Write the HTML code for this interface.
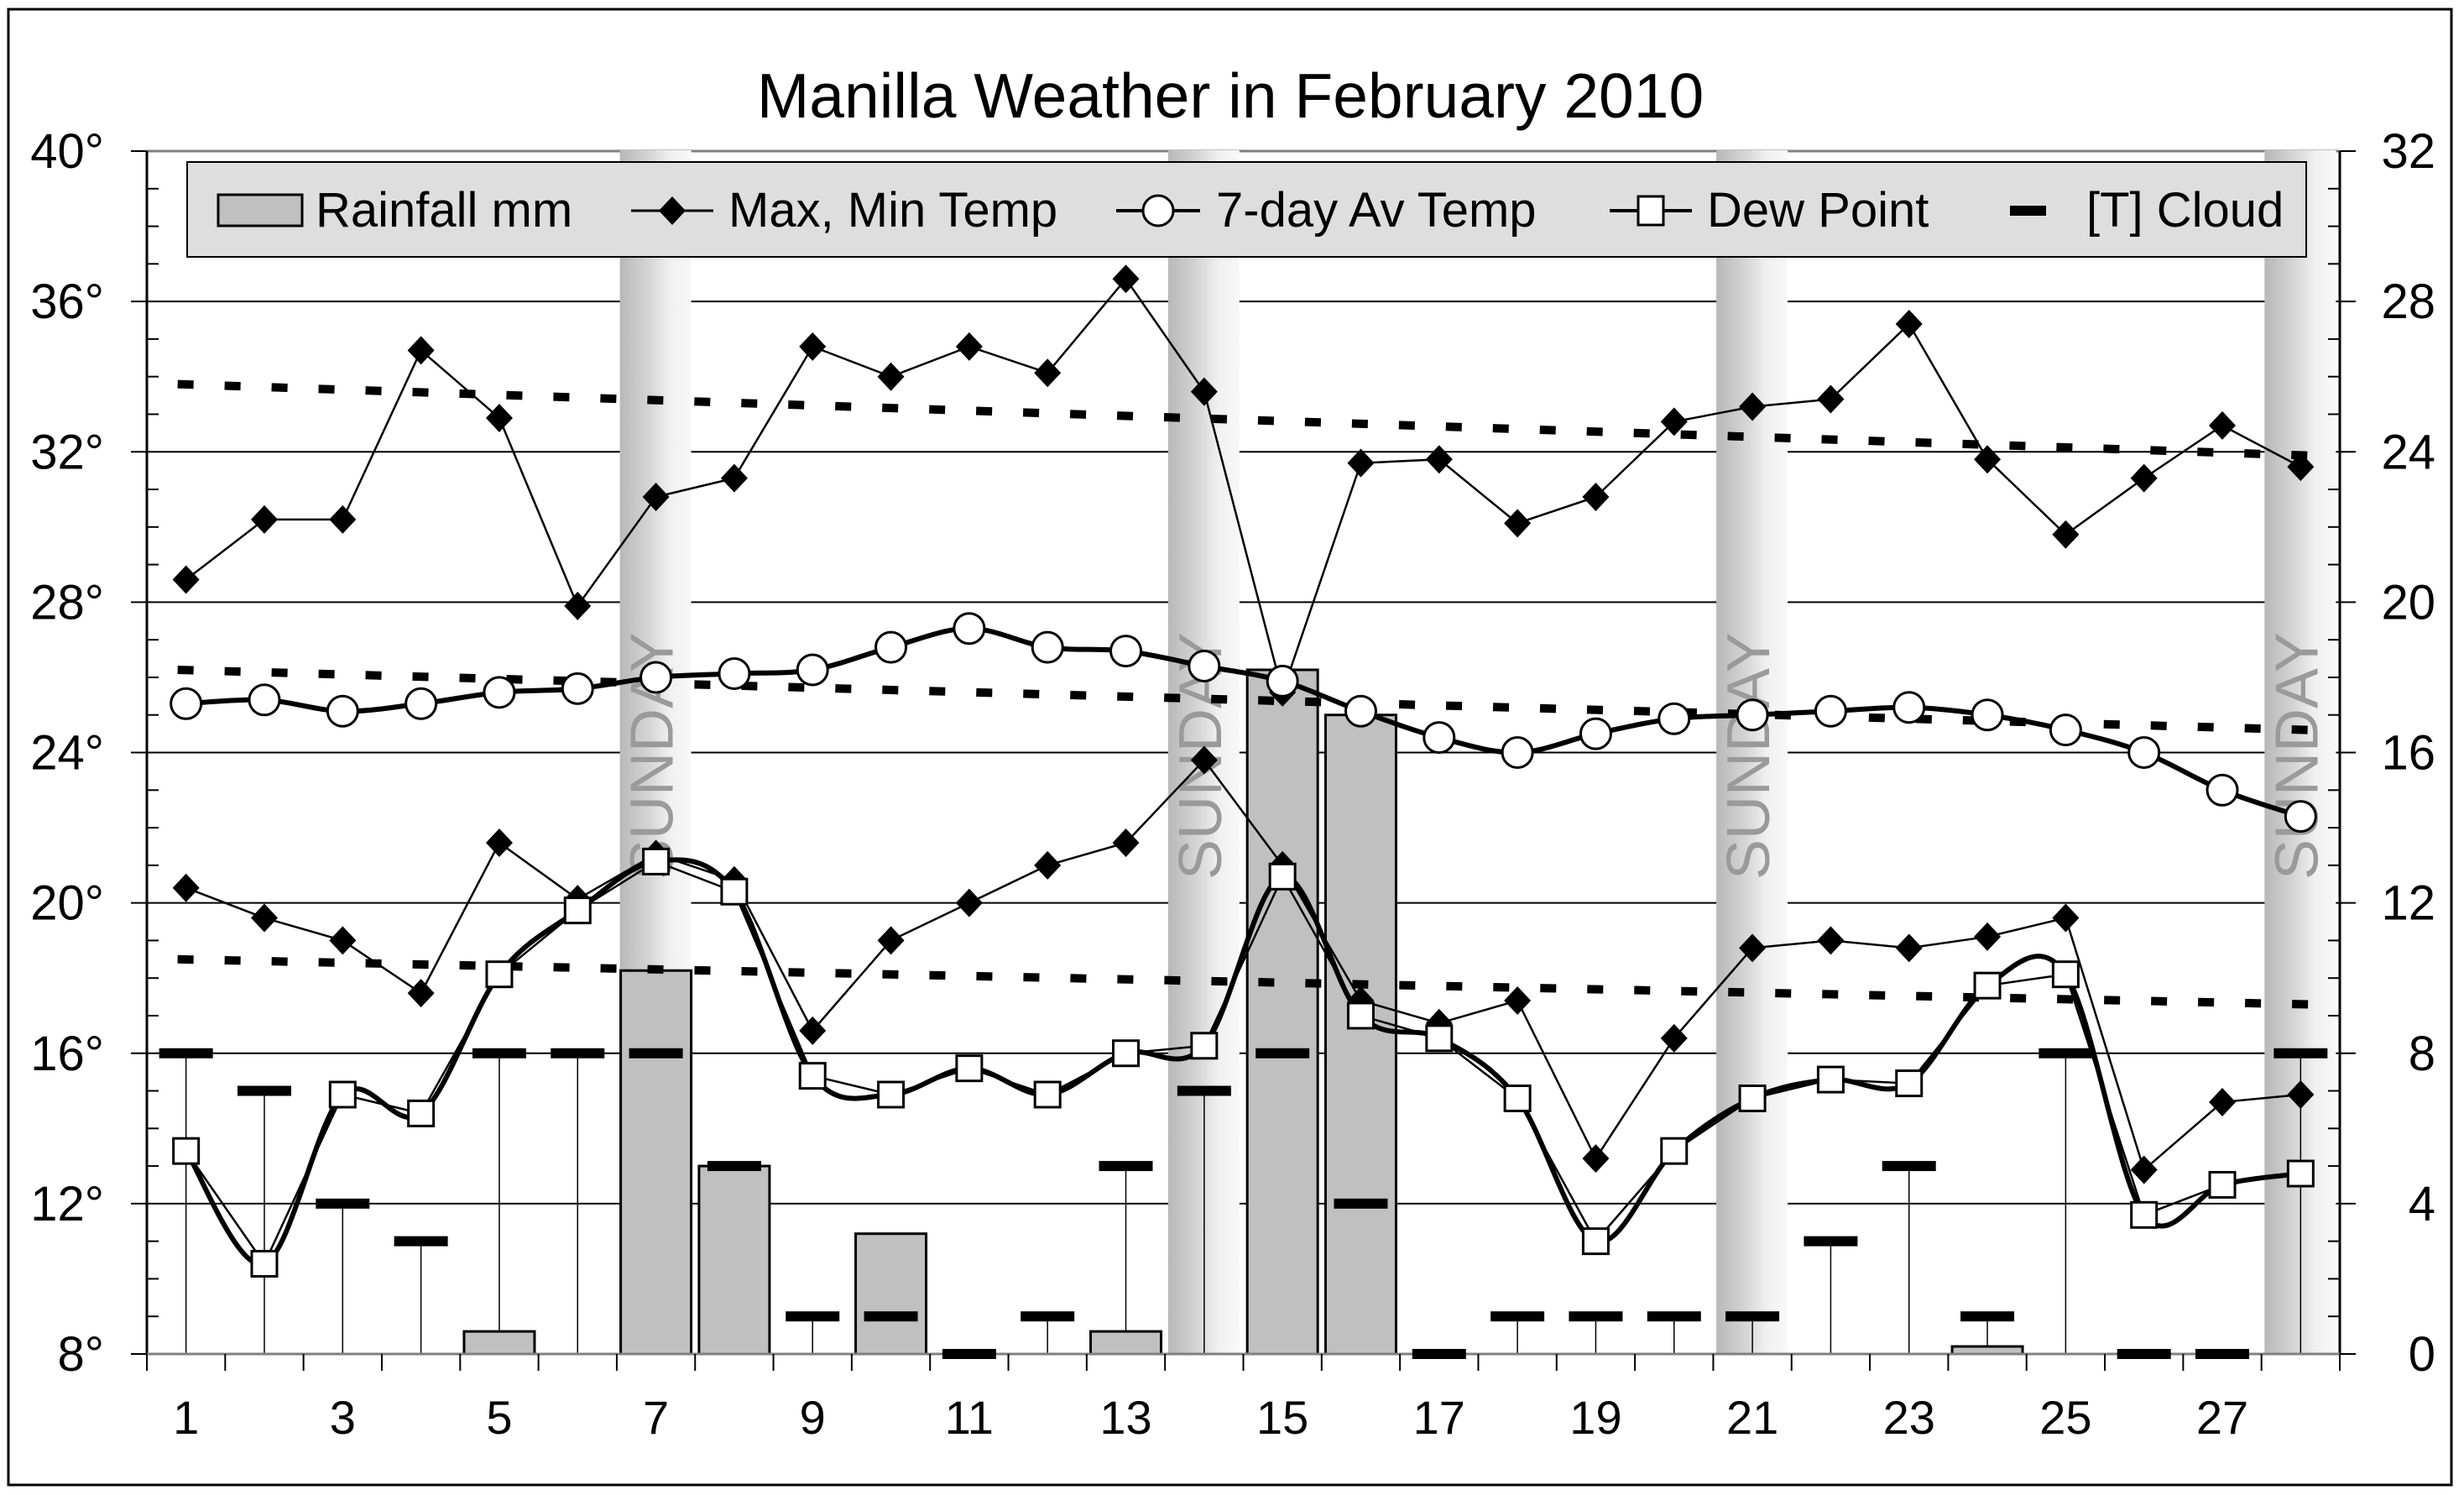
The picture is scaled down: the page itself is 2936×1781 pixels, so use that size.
<!DOCTYPE html>
<html><head><meta charset="utf-8"><style>
html,body{margin:0;padding:0;background:#fff}
svg{display:block}
text{font-family:"Liberation Sans",Arial,sans-serif}
</style></head><body>
<svg id="s" width="2936" height="1781" viewBox="0 0 2936 1781" xmlns="http://www.w3.org/2000/svg">
<defs>
<linearGradient id="sun" x1="0" x2="1" y1="0" y2="0">
<stop offset="0" stop-color="#b8b8b8"/><stop offset="0.45" stop-color="#d8d8d8"/><stop offset="0.7" stop-color="#f0f0f0"/><stop offset="1" stop-color="#f8f8f8"/>
</linearGradient>
</defs>
<rect x="10" y="11" width="2911" height="1758" fill="#fff" stroke="#000" stroke-width="3"/>
<text x="1466" y="140" font-size="75" text-anchor="middle">Manilla Weather in February 2010</text>
<g id="g"></g>
</svg>
<script>
const L=175,R=2788,T=180,B=1613,W=(R-L)/28,U=(B-T)/32;
const X=d=>L+(d-0.5)*W, Y=t=>B-(t-8)*U, YR=r=>B-r*U;
let h='';
for(let t=12;t<=36;t+=4) h+=`<line x1="${L}" x2="${R}" y1="${Y(t)}" y2="${Y(t)}" stroke="#000" stroke-width="2"/>`;
h+=`<line x1="${L}" x2="${R}" y1="${T}" y2="${T}" stroke="#808080" stroke-width="3"/>`;
[7,14,21,28].forEach(d=>{h+=`<rect x="${X(d)-43}" y="${T-1}" width="85" height="${B-T+1}" fill="url(#sun)"/>`;});
const cloud=[8,7,4,3,8,8,8,5,1,1,0,1,5,7,8,4,0,1,1,1,1,3,5,1,8,0,0,8];
cloud.forEach((c,i)=>{if(c>0)h+=`<line x1="${X(i+1)}" x2="${X(i+1)}" y1="${YR(c)}" y2="${B}" stroke="#000" stroke-width="1.5"/>`;});
const rain={5:0.6,7:10.2,8:5.0,10:3.2,13:0.6,15:18.2,16:17.0,24:0.2};
for(const d in rain){h+=`<rect x="${X(+d)-42}" y="${YR(rain[d])}" width="84" height="${B-YR(rain[d])}" fill="#c0c0c0" stroke="#000" stroke-width="3"/>`;}
[7,14,21,28].forEach(d=>{h+=`<text transform="translate(${X(d)+20},1048) rotate(-90)" font-size="72" fill="#9a9a9a">SUNDAY</text>`;});
function dash(a,b){h+=`<line x1="${X(1)-10}" x2="${X(28)+10}" y1="${Y(a)}" y2="${Y(b)}" stroke="#000" stroke-width="10" stroke-dasharray="19 37"/>`;}
dash(33.8,31.9);dash(26.2,24.6);dash(18.5,17.3);
const mx=[28.6,30.2,30.2,34.7,32.9,27.9,30.8,31.3,34.8,34.0,34.8,34.1,36.6,33.6,25.6,31.7,31.8,30.1,30.8,32.8,33.2,33.4,35.4,31.8,29.8,31.3,32.7,31.6];
const mn=[20.4,19.6,19.0,17.6,21.6,20.1,21.3,20.6,16.6,19.0,20.0,21.0,21.6,23.8,21.0,17.4,16.8,17.4,13.2,16.4,18.8,19.0,18.8,19.1,19.6,12.9,14.7,14.9];
const av=[25.3,25.4,25.1,25.3,25.6,25.7,26.0,26.1,26.2,26.8,27.3,26.8,26.7,26.3,25.9,25.1,24.4,24.0,24.5,24.9,25.0,25.1,25.2,25.0,24.6,24.0,23.0,22.3];
const dp=[13.4,10.4,14.9,14.4,18.1,19.8,21.1,20.3,15.4,14.9,15.6,14.9,16.0,16.2,20.7,17.0,16.4,14.8,11.0,13.4,14.8,15.3,15.2,17.8,18.1,11.7,12.5,12.8];
const pts=a=>a.map((v,i)=>[X(i+1),Y(v)]);
function poly(a,w){h+=`<polyline points="${pts(a).map(p=>p.join(',')).join(' ')}" fill="none" stroke="#000" stroke-width="${w}"/>`;}
function smooth(a,w){const p=pts(a);let d=`M${p[0]}`;for(let i=0;i<p.length-1;i++){const p0=p[i-1]||p[i],p1=p[i],p2=p[i+1],p3=p[i+2]||p2;
d+=` C${p1[0]+(p2[0]-p0[0])/6},${p1[1]+(p2[1]-p0[1])/6} ${p2[0]-(p3[0]-p1[0])/6},${p2[1]-(p3[1]-p1[1])/6} ${p2[0]},${p2[1]}`;}
h+=`<path d="${d}" fill="none" stroke="#000" stroke-width="${w}"/>`;}
smooth(av,6);smooth(dp,6);poly(dp,2.5);poly(mx,2.5);poly(mn,2.5);
h+=`<line x1="${L}" x2="${L}" y1="${T}" y2="${B}" stroke="#000" stroke-width="3"/><line x1="${R}" x2="${R}" y1="${T}" y2="${B}" stroke="#000" stroke-width="3"/><line x1="${L}" x2="${R}" y1="${B}" y2="${B}" stroke="#808080" stroke-width="3"/>`;
cloud.forEach((c,i)=>{h+=`<rect x="${X(i+1)-32}" y="${YR(c)-6}" width="64" height="12" fill="#000"/>`;});
const dia=(x,y)=>`<polygon points="${x},${y-17} ${x+16},${y} ${x},${y+17} ${x-16},${y}" fill="#000"/>`;
mx.forEach((v,i)=>h+=dia(X(i+1),Y(v)));mn.forEach((v,i)=>h+=dia(X(i+1),Y(v)));
av.forEach((v,i)=>h+=`<circle cx="${X(i+1)}" cy="${Y(v)}" r="18" fill="#fff" stroke="#000" stroke-width="3"/>`);
dp.forEach((v,i)=>h+=`<rect x="${X(i+1)-15}" y="${Y(v)-15}" width="30" height="30" fill="#fff" stroke="#000" stroke-width="3"/>`);
for(let t=8;t<=40;t++){const y=Y(t);
 if(t%4==0){h+=`<line x1="${L-19}" x2="${L}" y1="${y}" y2="${y}" stroke="#000" stroke-width="2"/><line x1="${R}" x2="${R+19}" y1="${y}" y2="${y}" stroke="#000" stroke-width="2"/>`;
 h+=`<text x="124" y="${y+20}" font-size="58" text-anchor="end">${t}°</text><text x="2902" y="${y+20}" font-size="58" text-anchor="end">${t-8}</text>`;}
 else{h+=`<line x1="${L}" x2="${L+14}" y1="${y}" y2="${y}" stroke="#000" stroke-width="2"/><line x1="${R-14}" x2="${R}" y1="${y}" y2="${y}" stroke="#000" stroke-width="2"/>`;}}
for(let i=0;i<=28;i++){const x=L+i*W;h+=`<line x1="${x}" x2="${x}" y1="${B}" y2="${B+20}" stroke="#000" stroke-width="2"/>`;}
for(let d=1;d<=28;d+=2)h+=`<text x="${X(d)}" y="1708" font-size="56" text-anchor="middle">${d}</text>`;
h+=`<rect x="223" y="193" width="2525" height="113" fill="#dedede" stroke="#000" stroke-width="2"/>`;
h+=`<rect x="260" y="232" width="100" height="37" fill="#c0c0c0" stroke="#000" stroke-width="3"/><text x="376" y="270" font-size="58">Rainfall mm</text>`;
h+=`<line x1="752" x2="850" y1="251" y2="251" stroke="#000" stroke-width="3"/>`+dia(801,251)+`<text x="868" y="270" font-size="58">Max, Min Temp</text>`;
h+=`<line x1="1330" x2="1430" y1="251" y2="251" stroke="#000" stroke-width="4"/><circle cx="1380" cy="251" r="18" fill="#fff" stroke="#000" stroke-width="3"/><text x="1449" y="270" font-size="58">7-day Av Temp</text>`;
h+=`<line x1="1918" x2="2016" y1="251" y2="251" stroke="#000" stroke-width="4"/><rect x="1952" y="234" width="30" height="34" fill="#fff" stroke="#000" stroke-width="3"/><text x="2034" y="270" font-size="58">Dew Point</text>`;
h+=`<rect x="2395" y="245" width="43" height="12" fill="#000"/><text x="2486" y="270" font-size="58">[T] Cloud</text>`;
document.getElementById('g').innerHTML=h;
</script>
</body></html>
